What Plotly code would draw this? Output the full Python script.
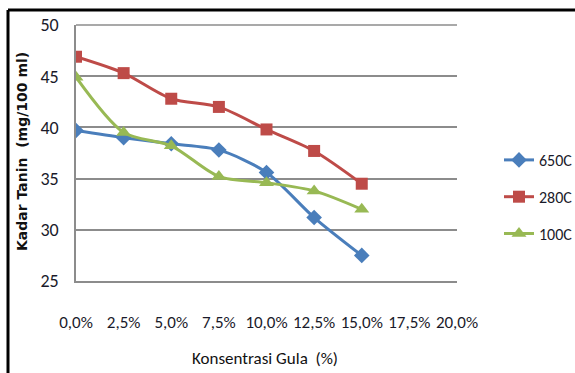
import plotly.graph_objects as go

# Sugar concentration (%) and tannin content (mg/100 ml) per series
konsentrasi = [0, 2.5, 5, 7.5, 10, 12.5, 15]
tick_vals = [0, 2.5, 5, 7.5, 10, 12.5, 15, 17.5, 20]
tick_text = ["0,0%", "2,5%", "5,0%", "7,5%", "10,0%", "12,5%", "15,0%", "17,5%", "20,0%"]

seri_650c = [39.7, 39.0, 38.4, 37.8, 35.6, 31.2, 27.5]
seri_280c = [46.9, 45.3, 42.8, 42.0, 39.8, 37.7, 34.5]
seri_100c = [44.9, 39.5, 38.2, 35.2, 34.6, 33.8, 32.0]

W, H = 575, 373
ML, MR, MT, MB = 76, 118, 25, 92
PW, PH = W - ML - MR, H - MT - MB


def px_x(p):
    return (p - ML) / PW


def px_y(p):
    return (H - MB - p) / PH


FONT = "Calibri, Carlito, Open Sans, sans-serif"
TXT = "#1a1a2a"

fig = go.Figure()
series = [
    ("650C", seri_650c, "#4a7ebb", "diamond", 12),
    ("280C", seri_280c, "#be4b48", "square", 12),
    ("100C", seri_100c, "#98b954", "triangle-up", 13),
]
for name, vals, color, symbol, size in series:
    fig.add_trace(go.Scatter(
        x=konsentrasi, y=vals, name=name, mode="lines+markers",
        line=dict(color=color, width=3, shape="spline", smoothing=0.8),
        marker=dict(symbol=symbol, size=size, color=color),
        legendgroup=name,
    ))

fig.update_layout(
    width=W, height=H,
    margin=dict(l=ML, r=MR, t=MT, b=MB, autoexpand=False),
    paper_bgcolor="white", plot_bgcolor="white",
    showlegend=True,
    legend=dict(
        x=px_x(499), y=px_y(143), xanchor="left", yanchor="top",
        font=dict(family=FONT, size=16, color=TXT),
        traceorder="grouped", tracegroupgap=13, itemwidth=30,
        bgcolor="rgba(0,0,0,0)",
    ),
    xaxis=dict(
        range=[0, 20], tickvals=tick_vals, ticktext=tick_text, tickangle=0,
        showgrid=False, zeroline=False, showline=True, linecolor="#8c8c8c", linewidth=1.5,
        ticks="", ticklabelstandoff=25, tickfont=dict(family=FONT, size=17, color=TXT),
    ),
    yaxis=dict(
        range=[25, 50], dtick=5, showgrid=True, gridcolor="#8c8c8c", gridwidth=1.5,
        zeroline=False, showline=True, linecolor="#8c8c8c", linewidth=1.5,
        ticks="", ticklabelstandoff=12, tickfont=dict(family=FONT, size=18, color=TXT),
    ),
    annotations=[
        dict(text="<b>Kadar Tanin  (mg/100 ml)</b>", textangle=-90,
             xref="paper", yref="paper", x=px_x(22), y=px_y(152),
             xanchor="center", yanchor="middle", showarrow=False,
             font=dict(family="DejaVu Sans, Verdana, sans-serif", size=14, color="#111111")),
        dict(text="Konsentrasi Gula  (%)",
             xref="paper", yref="paper", x=px_x(265), y=px_y(358),
             xanchor="center", yanchor="middle", showarrow=False,
             font=dict(family=FONT, size=17, color="#111111")),
    ],
    shapes=[
        dict(type="line", xref="paper", yref="paper", layer="above",
             x0=px_x(8), x1=px_x(8), y0=px_y(380), y1=px_y(10),
             line=dict(color="black", width=3)),
        dict(type="line", xref="paper", yref="paper", layer="above",
             x0=px_x(8), x1=px_x(580), y0=px_y(10), y1=px_y(10),
             line=dict(color="black", width=3)),
        dict(type="line", xref="paper", yref="paper", layer="below",
             x0=0, x1=1, y0=1, y1=1,
             line=dict(color="#8c8c8c", width=1.5)),
    ],
)

fig.write_html("out.html")
